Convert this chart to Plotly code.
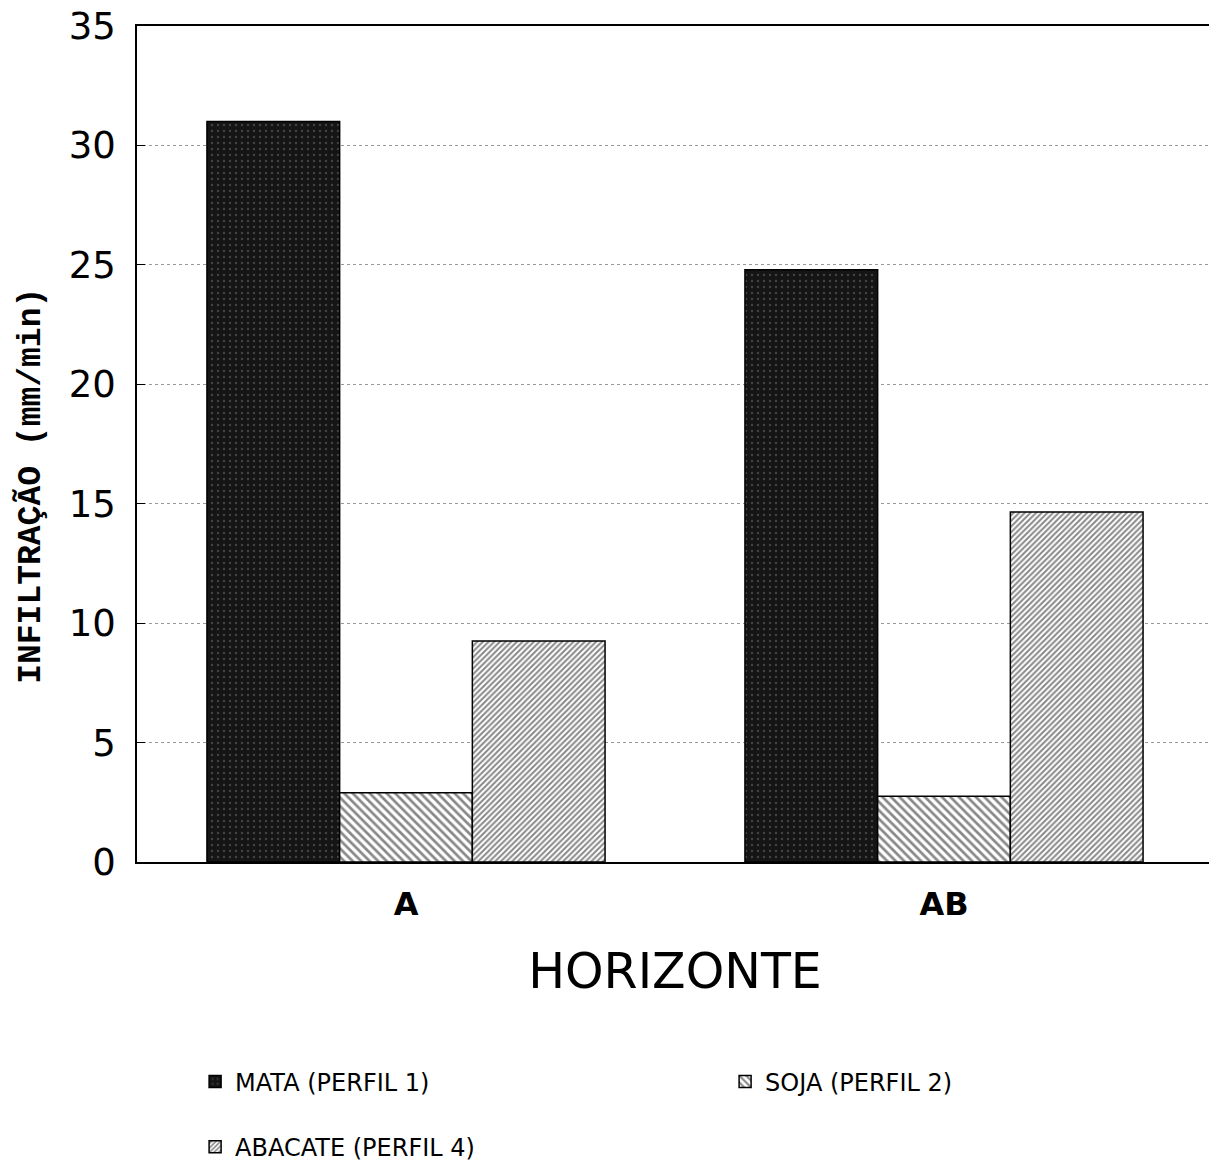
import plotly.graph_objects as go

horizontes = ["A", "AB"]
mata = [31.0, 24.8]
soja = [2.9, 2.75]
abacate = [9.25, 14.65]

series = [
    ("MATA (PERFIL 1)", mata, dict(color="#151515", pattern=dict(shape=".", fgcolor="#707070", bgcolor="#151515", size=6, solidity=0.12))),
    ("SOJA (PERFIL 2)", soja, dict(color="white", pattern=dict(shape="\\", fgcolor="#111", bgcolor="white", size=6, solidity=0.45))),
    ("ABACATE (PERFIL 4)", abacate, dict(color="white", pattern=dict(shape="/", fgcolor="#111", bgcolor="white", size=4, solidity=0.5))),
]

SANS = "DejaVu Sans, Verdana, sans-serif"

fig = go.Figure()
for name, vals, marker in series:
    marker["line"] = dict(color="black", width=1.5)
    # the extra blank line only spreads the legend rows apart
    fig.add_trace(go.Bar(x=horizontes, y=vals, name=name + "<br>&nbsp;", marker=marker,
                         hovertemplate=name + "<br>%{x}: %{y}<extra></extra>"))

# page body has an 8px margin, so the margins are trimmed by that much
fig.update_layout(
    width=1217, height=1163,
    barmode="group", bargap=0.26, bargroupgap=0,
    paper_bgcolor="white", plot_bgcolor="white",
    font=dict(family=SANS, color="black"),
    margin=dict(l=129, r=12, t=18, b=309, autoexpand=False),
    showlegend=True,
    legend=dict(
        orientation="h", x=0.054, xanchor="left", y=-0.236, yanchor="top",
        entrywidth=485, font=dict(size=24, family=SANS), traceorder="normal", valign="top",
    ),
)
fig.add_annotation(
    text="INFILTRAÇÃO (mm/min)", textangle=-90,
    xref="paper", yref="paper", x=-0.0985, y=0.45, xanchor="center", yanchor="middle",
    showarrow=False,
    font=dict(size=33, family="Liberation Mono, Courier New, monospace", weight="bold"),
)
fig.update_xaxes(
    automargin=False,
    showline=True, linecolor="black", linewidth=1.5, mirror=True,
    ticks="", ticklabelstandoff=13,
    tickfont=dict(size=32, family=SANS, weight="bold"),
    title=dict(text="HORIZONTE", font=dict(size=49, family=SANS), standoff=32),
)
fig.update_yaxes(
    automargin=False,
    range=[0, 35], dtick=5, showline=True, linecolor="black", linewidth=1.5, mirror=True,
    ticks="inside", ticklen=8, tickcolor="black", tickfont=dict(size=37, family=SANS),
    ticklabelstandoff=12, ticklabeloverflow="allow",
    showgrid=True, gridcolor="#999", griddash="dot", gridwidth=1,
    zeroline=False,
)

fig.write_html("out.html")
